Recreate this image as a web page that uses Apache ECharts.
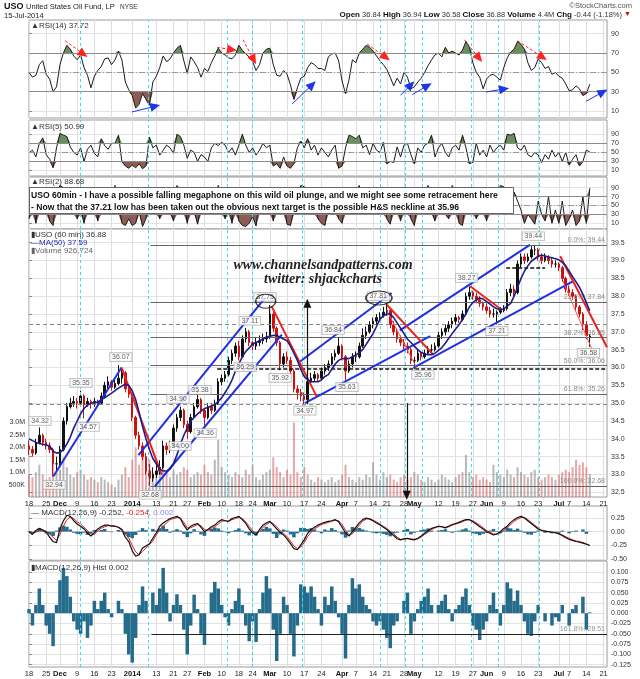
<!DOCTYPE html>
<html><head><meta charset="utf-8">
<script src="https://cdn.jsdelivr.net/npm/echarts@6/dist/echarts.min.js"></script>
<style>html,body{margin:0;padding:0;background:#fff}#c{width:640px;height:679px}</style>
</head><body><div id="c"></div>
<script>
// ---------- categories (trading days) ----------
const tradingMonths = [
 ['Nov',[18,19,20,21,22,25,26,27,29]],
 ['Dec',[2,3,4,5,6,9,10,11,12,13,16,17,18,19,20,23,24,26,27,30,31]],
 ['Jan',[2,3,6,7,8,9,10,13,14,15,16,17,21,22,23,24,27,28,29,30,31]],
 ['Feb',[3,4,5,6,7,10,11,12,13,14,18,19,20,21,24,25,26,27,28]],
 ['Mar',[3,4,5,6,7,10,11,12,13,14,17,18,19,20,21,24,25,26,27,28,31]],
 ['Apr',[1,2,3,4,7,8,9,10,11,14,15,16,17,21,22,23,24,25,28,29,30]],
 ['May',[1,2,5,6,7,8,9,12,13,14,15,16,19,20,21,22,23,27,28,29,30]],
 ['Jun',[2,3,4,5,6,9,10,11,12,13,16,17,18,19,20,23,24,25,26,27,30]],
 ['Jul',[1,2,3,7,8,9,10,11,14,15,16,17,18,21,22]]
];
const categories = [];
tradingMonths.forEach(m => m[1].forEach(d => categories.push(m[0] + ' ' + d)));

const xTickLabels = [['Nov 18','18'],['Nov 25','25'],['Dec 2','Dec'],['Dec 9','9'],['Dec 16','16'],['Dec 23','23'],
 ['Jan 2','2014'],['Jan 13','13'],['Jan 21','21'],['Jan 27','27'],['Feb 3','Feb'],['Feb 10','10'],['Feb 18','18'],['Feb 24','24'],
 ['Mar 3','Mar'],['Mar 10','10'],['Mar 17','17'],['Mar 24','24'],['Apr 1','Apr'],['Apr 7','7'],['Apr 14','14'],['Apr 21','21'],
 ['Apr 28','28'],['May 1','May'],['May 12','12'],['May 19','19'],['May 27','27'],['Jun 2','Jun'],['Jun 9','9'],['Jun 16','16'],
 ['Jun 23','23'],['Jul 1','Jul'],['Jul 7','7'],['Jul 14','14'],['Jul 21','21']];
const boldTicks = ['Dec','2014','Feb','Mar','Apr','May','Jun','Jul'];

// ---------- price (daily OHLC of the 60-min chart) ----------
const open = [
 33.80,33.70,33.60,33.90,34.10,33.90,33.80,33.70,33.30,
 33.30,33.70,34.50,34.90,35.00,35.05,35.00,35.20,34.95,35.05,35.00,35.05,35.00,35.20,35.50,35.60,35.45,35.55,35.70,35.85,35.40,
 35.25,34.60,34.10,33.80,33.50,33.10,32.90,33.00,33.10,33.20,33.80,33.70,33.80,34.30,34.60,34.80,34.40,34.20,34.60,34.90,35.10,
 34.80,34.60,34.90,34.80,35.00,35.60,35.70,35.80,36.20,36.40,36.60,36.30,36.80,37.00,36.70,36.60,36.70,36.75,36.80,
 36.85,37.50,37.10,36.70,36.10,36.30,36.20,35.90,35.40,35.30,35.20,35.10,35.60,35.70,35.80,35.70,35.90,36.00,36.10,36.30,36.40,
 36.60,36.30,35.90,36.10,36.30,36.30,36.60,36.90,37.00,37.20,37.30,37.40,37.45,37.55,37.60,37.20,37.00,36.80,36.70,36.60,36.50,
 36.20,36.20,36.40,36.30,36.40,36.50,36.50,36.60,36.90,37.00,37.10,37.20,37.30,37.40,37.35,37.50,38.00,38.10,38.00,37.90,37.80,
 37.70,37.60,37.50,37.50,37.55,37.60,37.65,38.10,38.20,38.10,38.90,39.10,39.00,39.10,39.30,39.30,39.10,39.00,39.10,39.00,38.90,
 38.90,38.80,38.50,38.20,38.10,38.00,37.70,37.50,37.20,36.84];
const close = [
 33.70,33.60,33.90,34.10,33.90,33.80,33.70,33.30,33.30,
 33.70,34.50,34.90,35.00,35.05,35.00,35.20,34.95,35.05,35.00,35.05,35.00,35.20,35.50,35.60,35.45,35.55,35.70,35.85,35.40,35.25,
 34.60,34.10,33.80,33.50,33.10,32.90,33.00,33.10,33.20,33.80,33.70,33.80,34.30,34.60,34.80,34.40,34.20,34.60,34.90,35.10,34.80,
 34.60,34.90,34.80,35.00,35.60,35.70,35.80,36.20,36.40,36.60,36.30,36.80,37.00,36.70,36.60,36.70,36.75,36.80,36.85,
 37.50,37.10,36.70,36.10,36.30,36.20,35.90,35.40,35.30,35.20,35.10,35.60,35.70,35.80,35.70,35.90,36.00,36.10,36.30,36.40,36.60,
 36.30,35.90,36.10,36.30,36.30,36.60,36.90,37.00,37.20,37.30,37.40,37.45,37.55,37.60,37.20,37.00,36.80,36.70,36.60,36.50,36.20,
 36.20,36.40,36.30,36.40,36.50,36.50,36.60,36.90,37.00,37.10,37.20,37.30,37.40,37.35,37.50,38.00,38.10,38.00,37.90,37.80,37.70,
 37.60,37.50,37.50,37.55,37.60,37.65,38.10,38.20,38.10,38.90,39.10,39.00,39.10,39.30,39.30,39.10,39.00,39.10,39.00,38.90,38.90,
 38.80,38.50,38.20,38.10,38.00,37.70,37.50,37.20,36.90,36.88];
const high = [
 33.95,33.80,34.00,34.32,34.15,34.00,33.90,33.75,33.50,
 33.80,34.60,35.00,35.15,35.20,35.15,35.35,35.25,35.15,35.10,35.15,35.10,35.30,35.60,35.75,35.65,35.70,36.07,35.95,35.90,35.50,
 35.30,34.65,34.20,33.90,33.60,33.30,33.20,33.30,33.40,33.95,33.90,33.95,34.40,34.70,34.90,34.85,34.50,34.70,35.00,35.38,35.15,
 34.85,35.00,35.00,35.10,35.70,35.80,35.90,36.30,36.50,36.70,36.75,36.90,37.11,37.05,36.80,36.85,36.90,36.95,37.00,
 37.75,37.55,37.15,36.75,36.40,36.45,36.30,35.95,35.50,35.40,35.30,35.70,35.85,35.90,35.85,36.00,36.10,36.20,36.40,36.50,36.84,
 36.65,36.35,36.20,36.40,36.45,36.70,37.10,37.15,37.30,37.40,37.50,37.55,37.70,37.81,37.65,37.30,37.10,36.90,36.80,36.70,36.55,
 36.30,36.50,36.45,36.50,36.60,36.65,36.70,37.00,37.10,37.20,37.30,37.40,37.50,37.45,37.60,38.10,38.27,38.15,38.10,38.00,37.85,
 37.80,37.70,37.65,37.60,37.70,37.75,38.20,38.35,38.30,39.00,39.20,39.20,39.20,39.40,39.44,39.35,39.20,39.20,39.15,39.10,39.00,
 38.95,38.85,38.55,38.30,38.20,38.05,37.75,37.55,37.30,36.94];
const low = [
 33.55,33.50,33.55,33.85,33.80,33.70,33.60,32.94,33.10,
 33.25,33.65,34.40,34.85,34.90,34.85,34.95,34.57,34.90,34.85,34.90,34.90,34.95,35.15,35.40,35.35,35.40,35.50,35.55,35.30,35.15,
 34.50,34.00,33.70,33.40,33.00,32.68,32.80,32.90,33.00,33.15,33.55,33.60,33.75,34.20,34.50,34.30,34.00,34.15,34.55,34.85,34.70,
 34.36,34.55,34.70,34.75,34.95,35.50,35.60,35.75,36.10,36.30,36.20,36.29,36.70,36.60,36.40,36.50,36.60,36.65,36.70,
 36.80,37.00,36.60,35.92,36.00,36.10,35.80,35.30,35.10,35.05,34.97,35.05,35.50,35.60,35.60,35.65,35.80,35.90,36.05,36.20,36.35,
 36.20,35.63,35.85,36.00,36.15,36.25,36.55,36.80,36.95,37.10,37.20,37.30,37.40,37.45,37.10,36.90,36.70,36.60,36.50,36.40,36.10,
 35.96,36.15,36.20,36.25,36.35,36.40,36.45,36.55,36.80,36.90,37.00,37.10,37.20,37.25,37.30,37.45,37.90,37.90,37.80,37.70,37.60,
 37.50,37.40,37.40,37.21,37.50,37.55,37.60,38.00,38.00,38.05,38.80,38.90,38.95,39.05,39.15,39.00,38.90,38.95,38.90,38.80,38.80,
 38.70,38.40,38.10,38.00,37.90,37.60,37.40,37.05,36.80,36.58];
const ma50 = [
 34.0,33.95,33.9,33.87,33.85,33.83,33.8,33.65,33.6,
 33.62,33.7,33.85,34.05,34.3,34.5,34.7,34.85,34.95,35.0,35.02,35.03,35.1,35.15,35.22,35.28,35.35,35.42,35.48,35.53,35.5,
 35.35,35.1,34.75,34.35,34.0,33.7,33.45,33.3,33.15,33.1,33.1,33.15,33.3,33.55,33.85,34.1,34.3,34.5,34.6,34.7,34.78,
 34.85,34.88,34.92,34.95,35.05,35.15,35.3,35.45,35.65,35.9,36.1,36.3,36.45,36.55,36.65,36.7,36.75,36.8,36.85,
 36.88,36.9,36.9,36.85,36.8,36.75,36.6,36.4,36.2,35.95,35.75,35.65,35.6,35.6,35.6,35.65,35.75,35.8,35.95,36.1,36.2,
 36.25,36.25,36.25,36.3,36.35,36.42,36.5,36.65,36.8,36.95,37.15,37.35,37.45,37.5,37.5,37.4,37.25,37.1,36.95,36.8,36.7,
 36.6,36.5,36.42,36.38,36.36,36.36,36.4,36.48,36.56,36.68,36.82,36.95,37.08,37.2,37.35,37.5,37.7,37.82,37.9,37.95,37.92,
 37.85,37.78,37.7,37.65,37.62,37.65,37.72,37.8,38.0,38.25,38.5,38.7,38.85,38.98,39.05,39.12,39.15,39.13,39.1,39.08,39.05,
 39.02,38.95,38.85,38.7,38.55,38.4,38.25,38.05,37.82,37.59];
const volumeM = [
 0.9,0.8,1.0,1.3,0.9,0.7,0.8,1.4,1.0,
 1.1,1.6,1.2,0.9,0.8,1.0,1.1,0.9,0.7,0.8,0.7,0.6,0.8,0.7,0.6,0.5,0.4,0.7,0.9,1.2,0.8,
 1.5,2.0,1.3,1.6,1.2,1.5,1.0,0.9,1.1,1.4,1.0,0.8,1.1,0.9,1.0,1.2,1.1,0.8,0.9,1.0,0.9,
 1.3,1.0,0.9,1.5,2.3,1.2,1.0,0.9,0.8,1.0,0.9,0.8,1.1,0.9,1.3,0.8,0.7,0.9,1.0,
 1.1,1.6,1.2,1.0,0.8,1.1,0.9,3.0,1.0,0.8,1.2,0.9,0.7,0.6,0.8,0.7,0.6,0.7,0.8,0.6,0.7,
 0.9,1.3,0.8,0.7,0.6,0.8,0.7,0.9,0.8,1.4,0.9,0.7,1.0,0.8,0.9,0.7,0.6,0.8,0.9,0.7,0.8,
 1.0,0.9,0.7,0.6,0.8,0.7,0.6,0.7,0.9,0.8,0.7,0.6,0.8,0.9,1.0,1.7,1.0,0.8,0.9,0.7,0.8,
 0.7,0.6,1.3,1.0,0.9,0.8,1.1,0.9,0.8,1.2,1.0,0.9,0.8,1.0,1.1,0.8,0.7,0.8,0.9,0.8,0.7,
 0.9,1.0,1.1,1.0,1.2,1.5,1.3,1.4,1.2,0.93];

// ---------- oscillators ----------
const rsi14 = [
 50,45,47,58,62,48,43,30,35,
 58,70,78,74,67,63,68,55,47,34,46,52,56,64,65,58,63,72,63,40,32,
 26,13,17,28,22,16,40,46,55,67,61,64,70,75,78,62,49,66,61,55,45,
 54,51,60,67,75,70,68,65,64,68,78,73,69,66,61,52,58,70,74,
 75,58,47,46,52,48,37,22,34,44,46,55,60,58,54,54,52,66,69,70,62,
 41,28,42,63,60,70,74,78,76,72,67,62,58,53,45,36,44,38,50,45,33,
 35,40,44,50,57,63,68,70,66,76,70,72,70,68,73,82,76,60,50,45,33,
 43,47,48,45,42,55,65,71,74,82,79,74,60,52,55,64,60,54,56,48,50,
 46,44,38,31,32,36,33,26,28,37.72];
const rsi5 = [
 49,55,40,70,82,45,35,16,60,
 92,88,85,62,50,44,60,30,57,66,48,40,80,65,57,70,70,88,30,20,15,
 22,16,25,14,20,84,60,66,44,55,66,60,48,90,85,66,37,55,50,30,45,
 40,30,60,70,65,72,66,50,60,44,66,90,66,50,60,44,55,70,60,
 66,20,25,15,40,20,15,25,60,75,60,80,55,66,44,60,50,40,55,66,15,
 20,60,88,85,80,88,60,66,45,70,55,50,72,25,30,28,62,40,66,70,45,
 25,60,50,66,70,88,40,60,70,50,40,60,66,55,88,60,25,28,70,44,55,
 40,66,50,60,66,55,90,88,92,60,55,66,45,40,50,44,28,45,35,55,40,
 50,30,50,22,35,45,20,30,55,50.99];
const rsi2 = [
 20,70,10,90,30,60,15,5,80,
 95,90,70,40,85,20,50,10,70,30,60,15,90,50,80,30,95,60,10,5,20,
 5,10,40,3,20,90,50,80,20,70,90,40,15,95,85,60,10,70,40,8,50,
 80,30,85,60,95,70,20,60,10,80,15,5,3,10,25,4,70,90,50,
 80,15,75,30,60,8,5,40,70,95,92,85,30,75,20,10,5,50,80,60,20,
 10,70,85,40,80,95,50,80,30,85,40,30,90,20,8,60,70,15,80,90,20,
 5,70,40,80,95,40,15,70,85,30,20,95,80,10,5,70,40,85,20,50,70,
 15,80,40,70,95,92,85,30,80,60,40,10,30,20,8,60,30,15,70,10,40,
 10,60,5,20,40,5,15,70,10,88.68];
const macd = [
 0.0,-0.05,0.02,0.06,0.03,-0.01,-0.1,-0.18,-0.2,
 0.05,0.2,0.3,0.28,0.2,0.14,0.1,0.05,-0.02,-0.08,-0.02,0.05,0.09,0.12,0.12,0.1,0.1,0.08,0.03,-0.1,-0.18,
 -0.35,-0.45,-0.42,-0.3,-0.26,-0.22,-0.12,-0.02,0.1,0.16,0.2,0.24,0.26,0.28,0.24,0.12,0.03,0.1,0.13,0.15,0.08,
 0.0,0.04,0.09,0.12,0.18,0.22,0.2,0.19,0.24,0.26,0.28,0.22,0.15,0.05,-0.02,-0.06,0.04,0.12,0.16,
 0.19,0.12,0.05,-0.01,-0.06,-0.13,-0.22,-0.31,-0.33,-0.24,-0.15,-0.03,0.04,0.08,0.12,0.15,0.17,0.19,0.2,0.22,0.18,
 0.08,-0.02,-0.08,0.0,0.08,0.16,0.22,0.25,0.23,0.2,0.16,0.12,0.08,0.04,-0.02,-0.07,-0.13,-0.15,-0.13,-0.12,-0.14,
 -0.15,-0.12,-0.08,-0.03,0.02,0.06,0.08,0.1,0.09,0.07,0.1,0.13,0.15,0.17,0.2,0.22,0.22,0.18,0.14,0.09,0.05,
 0.0,-0.03,-0.06,-0.04,0.0,0.06,0.1,0.17,0.22,0.26,0.28,0.25,0.2,0.15,0.1,0.05,0.02,0.01,0.0,-0.01,-0.02,
 -0.04,-0.07,-0.11,-0.14,-0.16,-0.18,-0.19,-0.21,-0.23,-0.252];
const macdSignal = [
 0.0,-0.02,-0.01,0.02,0.03,0.01,-0.04,-0.1,-0.16,
 -0.05,0.1,0.22,0.27,0.24,0.18,0.14,0.08,0.02,-0.04,-0.05,0.02,0.06,0.09,0.11,0.11,0.1,0.08,0.05,-0.04,-0.12,
 -0.25,-0.37,-0.42,-0.36,-0.3,-0.24,-0.17,-0.06,0.04,0.1,0.16,0.22,0.24,0.26,0.25,0.17,0.07,0.07,0.1,0.13,0.11,
 0.04,0.02,0.06,0.09,0.14,0.19,0.2,0.19,0.22,0.24,0.26,0.24,0.18,0.1,0.02,-0.03,0.0,0.08,0.13,
 0.17,0.15,0.09,0.02,-0.03,-0.09,-0.17,-0.26,-0.31,-0.28,-0.2,-0.09,-0.01,0.05,0.09,0.13,0.15,0.17,0.19,0.21,0.2,
 0.13,0.03,-0.05,-0.04,0.04,0.12,0.19,0.23,0.24,0.21,0.18,0.14,0.1,0.06,0.01,-0.04,-0.1,-0.14,-0.14,-0.13,-0.13,
 -0.14,-0.13,-0.1,-0.05,-0.01,0.04,0.07,0.09,0.09,0.08,0.09,0.12,0.14,0.16,0.18,0.21,0.22,0.2,0.16,0.12,0.07,
 0.02,-0.01,-0.04,-0.05,-0.02,0.03,0.08,0.13,0.19,0.23,0.26,0.26,0.22,0.17,0.12,0.07,0.03,0.01,0.0,-0.01,-0.02,
 -0.03,-0.06,-0.09,-0.12,-0.15,-0.17,-0.18,-0.2,-0.22,-0.254];
const macdHist = [
 0.01,-0.03,0.02,0.06,0.02,-0.03,-0.05,-0.08,0.02,
 0.08,0.11,0.09,0.04,-0.02,-0.04,-0.05,-0.02,-0.06,-0.03,0.03,0.01,0.03,0.05,0.01,-0.01,0.0,0.03,0.01,-0.05,-0.1,
 -0.12,-0.06,0.02,0.065,0.03,0.0,0.05,0.02,0.06,0.11,0.05,-0.02,0.02,0.046,0.02,-0.04,-0.1,-0.03,0.045,0.01,-0.05,
 -0.077,0.0,0.05,0.076,0.06,0.02,-0.01,-0.03,0.01,0.03,0.06,0.02,-0.03,-0.068,-0.02,-0.07,0.01,0.05,0.09,
 0.06,-0.04,-0.116,-0.05,0.04,0.02,-0.05,-0.105,-0.03,0.07,0.065,0.05,0.065,0.04,0.01,-0.03,0.04,0.02,0.065,0.03,-0.01,
 -0.05,-0.11,0.02,0.085,0.06,0.07,0.04,0.02,0.01,-0.02,-0.03,-0.02,-0.04,-0.06,-0.085,-0.03,-0.02,0.0,0.03,0.05,-0.05,
 -0.02,0.01,0.03,0.04,0.06,0.02,0.0,0.02,0.03,0.045,0.01,-0.02,0.01,0.02,0.04,0.06,0.02,-0.03,-0.04,-0.065,-0.04,
 -0.02,0.02,0.05,0.01,-0.03,0.02,0.075,0.06,0.03,0.055,0.02,-0.02,-0.05,-0.055,-0.02,0.02,0.0,-0.02,0.0,-0.03,-0.01,
 -0.02,0.02,0.0,-0.03,0.01,0.02,0.0,0.04,-0.04,0.002];

// ---------- annotations (in trading-day index / value units) ----------
const cyanDays = [15.03,34.68,57.76,64.9,79.56,102.03,109.3,114.16,128.5,136.4,148.3];
const fibLevels = [['0.0%',39.44],['23.6%',37.84],['38.2%',36.85],['50.0%',36.06],['61.8%',35.26],['100.0%',32.68]];
const fibStartDay = 35.3;
const dashedGray = [37.21, 34.97];
const necklineLevel = 35.96, necklineStart = 54.7;
const shortDashed = [[138.7,150,38.80]];
const blueLines = [
 [[7.1,32.95],[26.9,36.0]], [[31.8,33.54],[68.6,37.95]], [[36.6,32.67],[73.5,36.92]],
 [[78.8,36.17],[105.4,38.09]], [[80.2,35.0],[116.6,36.88]], [[107.8,37.04],[145.6,39.44]], [[111.7,35.99],[158.2,38.42]]];
const redLines = [
 [[26.9,36.0],[38.6,32.99]], [[70.5,37.72],[83.6,35.19]], [[104,37.76],[117.5,36.36]],
 [[128.2,38.28],[137.4,37.62]], [[154.4,39.12],[168,36.57]]];
const redThinLines = [[[104,37.6],[112.7,35.99]], [[155.2,38.42],[164.5,36.31]]];
const arrowsMain = [[[80.9,34.97],[80.9,37.8]], [[109.8,35.0],[109.8,32.42]]];
const priceLabels = [
 [3.2,34.5,'34.32'],[7.3,32.71,'32.94'],[15.1,35.57,'35.35'],[17.2,34.33,'34.57'],[26.7,36.29,'36.07'],
 [35.2,32.43,'32.68'],[43.3,35.12,'34.90'],[43.9,33.8,'34.00'],[49.7,35.37,'35.38'],[51.2,34.16,'34.36'],
 [62.8,36.01,'36.29'],[64.2,37.31,'37.11'],[68.6,37.98,'37.75'],[73.0,35.71,'35.92'],[80.2,34.79,'34.97'],
 [88.4,37.05,'36.84'],[92.4,35.45,'35.63'],[101.5,38.0,'37.81'],[114.5,35.8,'35.96'],[127.2,38.51,'38.27'],
 [136.0,37.02,'37.21'],[146.6,39.68,'39.44'],[162.6,36.41,'36.58']];
const circles = [[68.8,37.86,20,14],[101.7,37.95,26,14]];
const rsiRedArrows = [[[10.5,82.7],[15.8,69]],[[54.7,75.9],[59.0,73.4]],[[62.2,83.8],[65.3,63]],
 [[98.3,79.3],[103.7,65.6]],[[126.5,83.8],[130.8,64.8]],[[142,82.7],[149.3,65.6]]];
const rsiBlueArrows = [[[29.9,9],[36.7,14.9]],[[76.5,17.3],[82.3,37.2]],[[108,26.3],[111,37.2]],
 [[111.4,26.9],[115.8,36.2]],[[132.8,29.7],[138.1,32.8]],[[161.9,20],[166.8,29.7]]];
const histLine = {start:35.6, value:-0.05, label:'161.8%: 28.51'};

// ---------- build ----------
const FONT = '"Liberation Sans", Arial, sans-serif';
const N = 168;
const tickIdx = xTickLabels.map(t => categories.indexOf(t[0]));
const tickText = {}; xTickLabels.forEach(t => { tickText[categories.indexOf(t[0])] = t[1]; });
const pairs = a => a.map((v, i) => [i, v]);

const GRIDS = [[20,98],[120,56],[177,52],[229,268],[506,54],[561,106]];
const grid = GRIDS.map(g => ({left:29, right:33, top:g[0], height:g[1], show:true, borderColor:'#9a9a9a', borderWidth:1, backgroundColor:'#fff'}));

const xAxis = GRIDS.map((g, gi) => ({
  type:'value', gridIndex:gi, min:0, max:N,
  axisLine:{show:false},
  axisTick:{show:false, customValues:tickIdx},
  axisLabel:{show: gi===3 || gi===5, customValues:tickIdx, margin:3, fontSize:7.5, color:'#222', fontFamily:FONT,
    formatter: v => { const t = tickText[Math.round(v)] || ''; return boldTicks.includes(t) ? '{b|' + t + '}' : t; },
    rich:{b:{fontWeight:'bold', fontSize:7.5, color:'#111', fontFamily:FONT}}},
  splitLine:{show:true, lineStyle:{color:'#dedede', width:1}}
}));

function yAx(gi, min, max, vals, fmt, extra) {
  return Object.assign({type:'value', gridIndex:gi, position:'right', min:min, max:max,
    axisLine:{show:false},
    axisTick:{show:true, customValues:vals, length:3, lineStyle:{color:'#888'}},
    axisLabel:{customValues:vals, formatter:fmt, fontSize:7, color:'#333', margin:4, fontFamily:FONT},
    splitLine:{show:true, lineStyle:{color:'#e3e3e3'}}}, extra || {});
}
const rsiVals = [10,30,50,70,90];
const priceVals = []; for (let v = 32.5; v <= 39.5001; v += 0.5) priceVals.push(+v.toFixed(1));
const histVals = [-0.125,-0.1,-0.075,-0.05,-0.025,0,0.025,0.05,0.075,0.1];
const yAxis = [
  yAx(0, 2.75, 104.2, rsiVals, v => String(v)),
  yAx(1, -2.0, 121.4, rsiVals, v => String(v)),
  yAx(2, -2.8, 114.0, rsiVals, v => String(v)),
  yAx(3, 32.369, 39.884, priceVals, v => v.toFixed(1)),
  yAx(3, 0, 10.8, [0.5,1,1.5,2,2.5,3], v => v < 1 ? Math.round(v*1000) + 'K' : v.toFixed(1) + 'M', {position:'left', axisTick:{show:false}, splitLine:{show:false}}),
  yAx(4, -0.518, 0.4695, [-0.5,-0.25,0,0.25], v => v.toFixed(2)),
  yAx(5, -0.1306, 0.1267, histVals, v => v.toFixed(3))
];

const cyanStyle = {color:'#33e0ee', width:1, type:[3,3]};
const cyanMarks = cyanDays.map(d => ({xAxis:d, lineStyle:cyanStyle}));
const GREEN = '#6b8f5c', BROWN = '#8d5d55';

function arrowPair(p, color, dashed) {
  return [{coord:p[0], symbol:'none', lineStyle:{color:color, width:1, type: dashed ? [3,2] : 'solid'}},
          {coord:p[1], symbol:'triangle', symbolSize:[9,10], itemStyle:{color:color}}];
}

function rsiPanel(gi, yi, data, arrows) {
  const ml = [
    {yAxis:70, lineStyle:{color:'#8c8c8c', width:1.2, type:'solid'}},
    {yAxis:30, lineStyle:{color:'#8c8c8c', width:1.2, type:'solid'}},
    {yAxis:50, lineStyle:{color:'#9a9a9a', width:1, type:[6,2,1,2]}}
  ].concat(cyanMarks);
  const lines = arrows || [];
  return [
    {type:'line', xAxisIndex:gi, yAxisIndex:yi, data:pairs(data.map(v => Math.max(v,70))), symbol:'none',
      lineStyle:{width:0}, areaStyle:{origin:70, color:GREEN, opacity:1}, silent:true, z:2},
    {type:'line', xAxisIndex:gi, yAxisIndex:yi, data:pairs(data.map(v => Math.min(v,30))), symbol:'none',
      lineStyle:{width:0}, areaStyle:{origin:30, color:BROWN, opacity:1}, silent:true, z:2},
    {type:'line', xAxisIndex:gi, yAxisIndex:yi, data:pairs(data), symbol:'none', lineStyle:{color:'#1a1a1a', width:1}, z:4, silent:true,
      markLine:{silent:true, symbol:'none', label:{show:false}, animation:false, data: ml.concat(lines)}}
  ];
}

const hLine = (x1, x2, y, style, label) => [{coord:[x1,y], symbol:'none', lineStyle:style, label:label}, {coord:[x2,y], symbol:'none'}];
const mainMarks = [].concat(
  cyanMarks,
  fibLevels.map(f => hLine(fibStartDay, N, f[1], {color:'#666', width:1, type:'solid'},
     {show:true, position:'insideEndTop', formatter: f[0] + ': ' + f[1].toFixed(2), color:'#8a8a8a', fontSize:7, fontFamily:FONT, distance:[2,1]})),
  dashedGray.map(v => hLine(0, N, v, {color:'#888', width:1, type:[4,3]})),
  [hLine(necklineStart, N, necklineLevel, {color:'#111', width:1.5, type:[4,2]})],
  shortDashed.map(s => hLine(s[0], s[1], s[2], {color:'#111', width:1.5, type:[4,2]})),
  blueLines.map(l => [{coord:l[0], symbol:'none', lineStyle:{color:'#2030e0', width:2, type:'solid'}}, {coord:l[1], symbol:'none'}]),
  redLines.map(l => [{coord:l[0], symbol:'none', lineStyle:{color:'#e8231f', width:2, type:'solid'}}, {coord:l[1], symbol:'none'}]),
  redThinLines.map(l => [{coord:l[0], symbol:'none', lineStyle:{color:'#ee5a55', width:1, type:'solid'}}, {coord:l[1], symbol:'none'}]),
  arrowsMain.map(l => [{coord:l[0], symbol:'none', lineStyle:{color:'#111', width:1.2, type:'solid'}}, {coord:l[1], symbol:'triangle', symbolSize:[8,9], itemStyle:{color:'#111'}}])
);

const candleData = open.map((o, i) => [i, o, close[i], low[i], high[i]]);
const volData = volumeM.map((v, i) => ({value:[i, v], itemStyle:{color: close[i] >= open[i] ? 'rgba(128,128,128,0.55)' : 'rgba(206,82,82,0.5)'}}));

const series = [].concat(
  rsiPanel(0, 0, rsi14, rsiRedArrows.map(a => arrowPair(a, '#f22', true)).concat(rsiBlueArrows.map(a => arrowPair(a, '#1f35e6', false)))),
  rsiPanel(1, 1, rsi5),
  rsiPanel(2, 2, rsi2),
  [
    {type:'bar', xAxisIndex:3, yAxisIndex:4, data:volData, barWidth:2, silent:true, z:1},
    {type:'candlestick', xAxisIndex:3, yAxisIndex:3, data:candleData, encode:{x:0, y:[1,2,3,4]}, barWidth:2, silent:true, z:3,
      itemStyle:{color:'#111', color0:'#cc1111', borderColor:'#111', borderColor0:'#cc1111', borderWidth:1}},
    {type:'line', xAxisIndex:3, yAxisIndex:3, data:pairs(ma50), symbol:'none', lineStyle:{color:'#1d1d8a', width:1.6}, z:5, silent:true,
      markLine:{silent:true, symbol:'none', label:{show:false}, animation:false, data:mainMarks}},
    {type:'scatter', xAxisIndex:3, yAxisIndex:3, z:8, silent:true, symbolSize:0,
      data: priceLabels.map(p => ({value:[p[0], p[1]], label:{formatter:p[2]}})),
      label:{show:true, position:'inside', backgroundColor:'#fff', borderColor:'#aaa', borderWidth:0.8, padding:[1,2,0,2],
        fontSize:7, color:'#333', fontFamily:FONT}},
    {type:'scatter', xAxisIndex:3, yAxisIndex:3, z:9, silent:true, symbol:'circle',
      data: circles.map(c => ({value:[c[0], c[1]], symbolSize:[c[2], c[3]]})),
      itemStyle:{color:'rgba(0,0,0,0)', borderColor:'#111', borderWidth:1.3}},
    // MACD panel
    {type:'bar', xAxisIndex:4, yAxisIndex:5, data:pairs(macdHist), barWidth:3.5, itemStyle:{color:'#246b8c'}, silent:true, z:2,
      markLine:{silent:true, symbol:'none', label:{show:false}, animation:false, data:cyanMarks}},
    {type:'line', xAxisIndex:4, yAxisIndex:5, data:pairs(macdSignal), symbol:'none', lineStyle:{color:'#e02020', width:1}, z:4, silent:true},
    {type:'line', xAxisIndex:4, yAxisIndex:5, data:pairs(macd), symbol:'none', lineStyle:{color:'#111', width:1.2}, z:5, silent:true},
    // Hist panel
    {type:'bar', xAxisIndex:5, yAxisIndex:6, data:pairs(macdHist), barWidth:3.5, itemStyle:{color:'#246b8c'}, silent:true, z:2,
      markLine:{silent:true, symbol:'none', label:{show:false}, animation:false,
        data: cyanMarks.concat([hLine(histLine.start, N, histLine.value, {color:'#222', width:1.2, type:'solid'},
          {show:true, position:'insideEndTop', formatter:histLine.label, color:'#999', fontSize:7, fontFamily:FONT, distance:[2,1]})])}}
  ]
);

const T = (x, y, text, font, fill, align, extra) => Object.assign({type:'text', x:x, y:y, z:100,
  style:{text:text, font:font, fill:fill || '#222', align:align || 'left', textAlign:align || 'left', verticalAlign:'top', textVerticalAlign:'top'}}, extra || {});
const NOTE_FONT = 'bold 9.5px ' + FONT;
const graphic = [
  T(4, 2, 'USO', 'bold 9px ' + FONT, '#111'),
  T(26, 3, 'United States Oil Fund, LP', '7.5px ' + FONT, '#222'),
  T(120, 4, 'NYSE', '6.5px ' + FONT, '#333'),
  T(4, 12, '15-Jul-2014', '7.5px ' + FONT, '#222'),
  T(632, 2, '\u00a9StockCharts.com', '7.5px ' + FONT, '#555', 'right'),
  {type:'text', x:622, y:11, z:100, style:{text:'{b|Open} 36.84 {b|High} 36.94 {b|Low} 36.58 {b|Close} 36.88 {b|Volume} 4.4M {b|Chg} -0.44 (-1.18%)',
    font:'7.5px ' + FONT, fill:'#333', align:'right', textAlign:'right', verticalAlign:'top', textVerticalAlign:'top',
    rich:{b:{fontWeight:'bold', fontSize:8, fill:'#111', fontFamily:FONT}}}},
  T(624, 11, '\u25bc', '7px ' + FONT, '#d00'),
  T(31, 22, '\u25b2RSI(14) 37.72', '8px ' + FONT, '#333'),
  T(31, 123, '\u25b2RSI(5) 50.99', '8px ' + FONT, '#333'),
  T(31, 178, '\u25b2RSI(2) 88.68', '8px ' + FONT, '#333'),
  {type:'rect', z:99, shape:{x:29.5, y:187.5, width:484, height:26}, style:{fill:'#fff', stroke:'#666', lineWidth:1}},
  T(31, 190, 'USO 60min - I have a possible falling megaphone on this wild oil plunge, and we might see some retracement here', NOTE_FONT, '#111', 'left', {scaleX:0.905}),
  T(31, 202, '- Now that the 37.21 low has been taken out the obvious next target is the possible H&S neckline at 35.96', NOTE_FONT, '#111', 'left', {scaleX:0.905}),
  T(31, 231, '\u25aeUSO (60 min) 36.88', '8px ' + FONT, '#333'),
  T(31, 239, '\u2014MA(50) 37.59', '8px ' + FONT, '#2a2aa8'),
  T(31, 247, '\u25aeVolume 926,724', '8px ' + FONT, '#666'),
  T(323, 258, 'www.channelsandpatterns.com', 'italic bold 14px "Liberation Serif", serif', '#222', 'center'),
  T(323, 272, 'twitter: shjackcharts', 'italic bold 14px "Liberation Serif", serif', '#222', 'center'),
  {type:'text', x:31, y:509, z:100, style:{text:'{k|\u2014 MACD(12,26,9) -0.252,} {r|-0.254,} {p|0.002}', font:'8px ' + FONT,
    align:'left', textAlign:'left', verticalAlign:'top', textVerticalAlign:'top',
    rich:{k:{fill:'#333', fontSize:8, fontFamily:FONT}, r:{fill:'#e02020', fontSize:8, fontFamily:FONT}, p:{fill:'#8888ee', fontSize:8, fontFamily:FONT}}}},
  T(31, 564, '\u25aeMACD(12,26,9) Hist 0.002', '8px ' + FONT, '#333')
];

const chart = echarts.init(document.getElementById('c'), null, {renderer:'canvas', width:640, height:679});
chart.setOption({animation:false, backgroundColor:'#fff', grid:grid, xAxis:xAxis, yAxis:yAxis, series:series, graphic:graphic});
</script></body></html>
